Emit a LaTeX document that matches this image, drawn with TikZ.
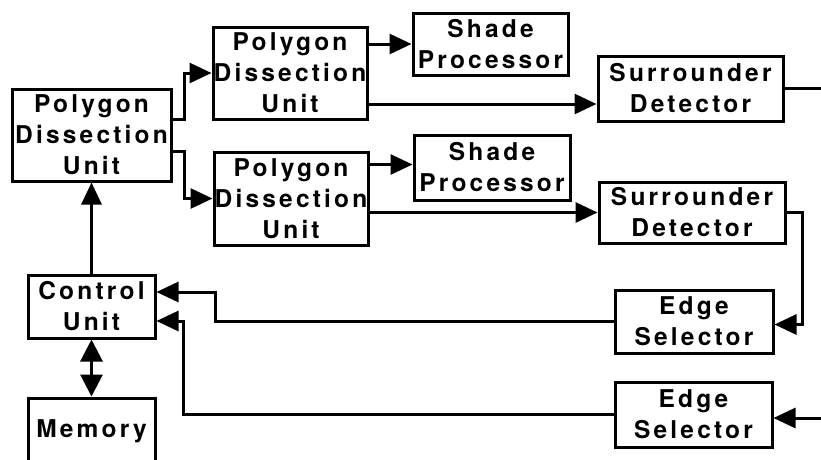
\documentclass[tikz,border=0pt]{standalone}
\usepackage{fontspec}
\setmainfont{TeX Gyre Heros}[LetterSpace=13]
\usetikzlibrary{arrows.meta}
\tikzset{
  box/.style={draw, line width=3pt, inner sep=0pt, align=center,
    font=\fontsize{24.5}{31}\selectfont\bfseries},
  wire/.style={line width=3pt},
  arr/.style={wire, -{Triangle[length=22pt,width=20pt]}},
  darr/.style={wire, {Triangle[length=22pt,width=22pt]}-{Triangle[length=22pt,width=22pt]}}
}
\begin{document}
\begin{tikzpicture}[x=1pt,y=-1pt]
\useasboundingbox (0,0) rectangle (821,459);
\node[box, minimum width=159pt, minimum height=92pt] (pdu0) at (91.5,135) {Polygon\\Dissection\\Unit};
\node[box, minimum width=154pt, minimum height=92pt] (pdu1) at (290,73) {Polygon\\Dissection\\Unit};
\node[box, minimum width=154pt, minimum height=93pt] (pdu2) at (291,198.5) {Polygon\\Dissection\\Unit};
\node[box, minimum width=155pt, minimum height=62pt] (sp1) at (490.5,44) {Shade\\Processor};
\node[box, minimum width=156pt, minimum height=65pt] (sp2) at (492,167.5) {Shade\\Processor};
\node[box, minimum width=185pt, minimum height=65pt] (sd1) at (690.5,88.5) {Surrounder\\Detector};
\node[box, minimum width=186pt, minimum height=61pt] (sd2) at (692,212.5) {Surrounder\\Detector};
\node[box, minimum width=158pt, minimum height=63pt] (es1) at (694,321.5) {Edge\\Selector};
\node[box, minimum width=157pt, minimum height=65pt] (es2) at (693.5,414.5) {Edge\\Selector};
\node[box, minimum width=127pt, minimum height=63pt] (cu) at (91.5,306.5) {Control\\Unit};
\node[box, minimum width=127pt, minimum height=66pt] (mem) at (91.5,431) {Memory};
\coordinate (out1) at (821,88.5);
\coordinate (in2) at (821,418);
% connectors
\draw[arr] ([yshift=16pt]pdu0.east) -- ++(12,0) |- (pdu1.west);
\draw[arr] ([yshift=-16pt]pdu0.east) -- ++(12,0) |- (pdu2.west);
\draw[arr] (pdu1.east |- sp1.west) -- (sp1.west);
\draw[arr] ([yshift=-31pt]pdu1.east) coordinate (p1b) -- (sd1.west |- p1b);
\draw[arr] ([yshift=34pt]pdu2.east) coordinate (p2a) -- (sp2.west |- p2a);
\draw[arr] (pdu2.east |- sd2.west) -- (sd2.west);
\draw[wire] (sd1.east) -- (out1);
\draw[arr] (sd2.east) -- ++(16,0) |- ([yshift=-3pt]es1.east);
\draw[arr] (in2) -- (es2.east |- in2);
\draw[arr] (es1.west) -- (215,321.5) |- ([yshift=14.5pt]cu.east);
\draw[arr] (es2.west) -- (183,414.5) |- ([yshift=-14.5pt]cu.east);
\draw[arr] (cu.north) -- (pdu0.south);
\draw[darr] (cu.south) -- (mem.north);
\end{tikzpicture}
\end{document}
